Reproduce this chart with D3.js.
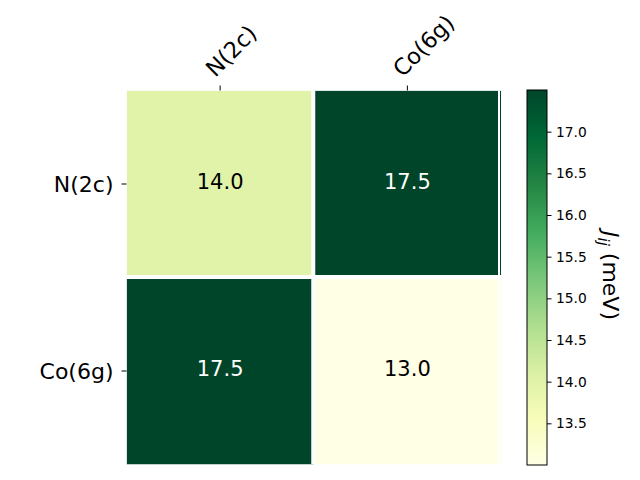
<!DOCTYPE html>
<html>
<head>
<meta charset="utf-8">
<script src="https://cdn.jsdelivr.net/npm/d3@7"></script>
<style>
  html, body { margin: 0; padding: 0; background: #fff; }
  svg { display: block; font-family: "DejaVu Sans", sans-serif; }
</style>
</head>
<body>
<svg id="chart" width="640" height="480"></svg>
<script>
// ---- data ----
const rowLabels = ["N(2c)", "Co(6g)"];
const colLabels = ["N(2c)", "Co(6g)"];
const row0 = [14.0, 17.5];
const row1 = [17.5, 13.0];
const values = [row0, row1];
const cbTicks = [13.5, 14.0, 14.5, 15.0, 15.5, 16.0, 16.5, 17.0];
const vmin = 13.0, vmax = 17.5;

// ---- setup ----
const svg = d3.select("#chart");
const axL = 126.5, axR = 501, axT = 90.5, axB = 464.5;

const x = d3.scaleBand().domain(colLabels).range([axL, axR]);
const y = d3.scaleBand().domain(rowLabels).range([axT, axB]);

const interp = d3.piecewise(d3.interpolateRgb, d3.schemeYlGn[9]);
const color = d3.scaleSequential(interp).domain([vmin, vmax]);

svg.append("defs").append("clipPath").attr("id", "axclip")
  .append("rect").attr("x", axL).attr("y", axT)
  .attr("width", axR - axL).attr("height", axB - axT);

const cellsG = svg.append("g").attr("clip-path", "url(#axclip)");

const cells = [];
values.forEach((row, i) => row.forEach((v, j) => cells.push({r: rowLabels[i], c: colLabels[j], v})));

cellsG.selectAll("rect.cell").data(cells).enter().append("rect")
  .attr("class", "cell")
  .attr("x", d => x(d.c)).attr("y", d => y(d.r))
  .attr("width", x.bandwidth()).attr("height", y.bandwidth())
  .attr("fill", d => color(d.v));

// white grid lines
const mid = x(colLabels[1]) - 0.5;
const midY = y(rowLabels[1]) - 0.5;
cellsG.append("line").attr("x1", mid).attr("x2", mid).attr("y1", axT).attr("y2", axB)
  .attr("stroke", "#fff").attr("stroke-width", 4);
cellsG.append("line").attr("x1", axL).attr("x2", axR).attr("y1", midY).attr("y2", midY)
  .attr("stroke", "#fff").attr("stroke-width", 4);
cellsG.append("line").attr("x1", axR - 2).attr("x2", axR - 2).attr("y1", axT).attr("y2", axB)
  .attr("stroke", "#fff").attr("stroke-width", 2);
cellsG.append("line").attr("x1", axL).attr("x2", axL).attr("y1", axT).attr("y2", axB)
  .attr("stroke", "#fff").attr("stroke-width", 1);
cellsG.append("line").attr("x1", axL).attr("x2", axR).attr("y1", axT).attr("y2", axT)
  .attr("stroke", "#fff").attr("stroke-width", 1);

// cell annotations
svg.selectAll("text.val").data(cells).enter().append("text")
  .attr("class", "val")
  .attr("x", d => x(d.c) + x.bandwidth() / 2)
  .attr("y", d => y(d.r) + y.bandwidth() / 2 - 2)
  .attr("text-anchor", "middle").attr("dominant-baseline", "central")
  .attr("font-size", "21px")
  .attr("fill", d => d.v > 16 ? "#fff" : "#000")
  .text(d => d.v.toFixed(1));

// top x ticks + labels
colLabels.forEach(c => {
  const cx = x(c) + x.bandwidth() / 2;
  svg.append("line").attr("x1", cx).attr("x2", cx).attr("y1", axT - 5).attr("y2", axT)
    .attr("stroke", "#000").attr("stroke-width", 1);
  svg.append("text")
    .attr("transform", `translate(${cx - 5},${78}) rotate(-45)`)
    .attr("text-anchor", "start")
    .attr("font-size", "22.5px")
    .attr("fill", "#000")
    .text(c);
});

// left y ticks + labels
rowLabels.forEach(r => {
  const cy = y(r) + y.bandwidth() / 2;
  svg.append("line").attr("x1", axL - 5).attr("x2", axL).attr("y1", cy).attr("y2", cy)
    .attr("stroke", "#000").attr("stroke-width", 1);
  svg.append("text")
    .attr("x", axL - 13).attr("y", cy)
    .attr("text-anchor", "end").attr("dominant-baseline", "central")
    .attr("font-size", "22px")
    .attr("fill", "#000")
    .text(r);
});

// ---- colorbar ----
const cbL = 527, cbR = 547, cbT = 90, cbB = 465;
const cbScale = d3.scaleLinear().domain([vmin, vmax]).range([cbB, cbT]);
const grad = svg.select("defs").append("linearGradient").attr("id", "cbgrad")
  .attr("x1", 0).attr("y1", 1).attr("x2", 0).attr("y2", 0);
d3.range(0, 1.0001, 0.025).forEach(t => {
  grad.append("stop").attr("offset", t).attr("stop-color", interp(t));
});
svg.append("rect").attr("x", cbL).attr("y", cbT)
  .attr("width", cbR - cbL).attr("height", cbB - cbT)
  .attr("fill", "url(#cbgrad)").attr("stroke", "#000").attr("stroke-width", 1);

const cbAxis = d3.axisRight(cbScale).tickValues(cbTicks)
  .tickFormat(d3.format(".1f")).tickSize(4.5).tickPadding(4.5);
const cbG = svg.append("g").attr("transform", `translate(${cbR},0)`).call(cbAxis);
cbG.select(".domain").remove();
cbG.selectAll("text").attr("font-size", "13.8px").attr("font-family", "DejaVu Sans, sans-serif").attr("fill", "#000");
cbG.selectAll("line").attr("stroke", "#000");

// colorbar label
const lab = svg.append("text")
  .attr("transform", `translate(${603},${cbScale((vmin + vmax) / 2) - 2}) rotate(90)`)
  .attr("text-anchor", "middle")
  .attr("font-size", "22px")
  .attr("fill", "#000");
lab.append("tspan").attr("font-style", "italic").text("J");
lab.append("tspan").attr("font-style", "italic").attr("font-size", "15px").attr("dy", "5").text("ij");
lab.append("tspan").attr("dy", "-5").text(" (meV)");
</script>
</body>
</html>
